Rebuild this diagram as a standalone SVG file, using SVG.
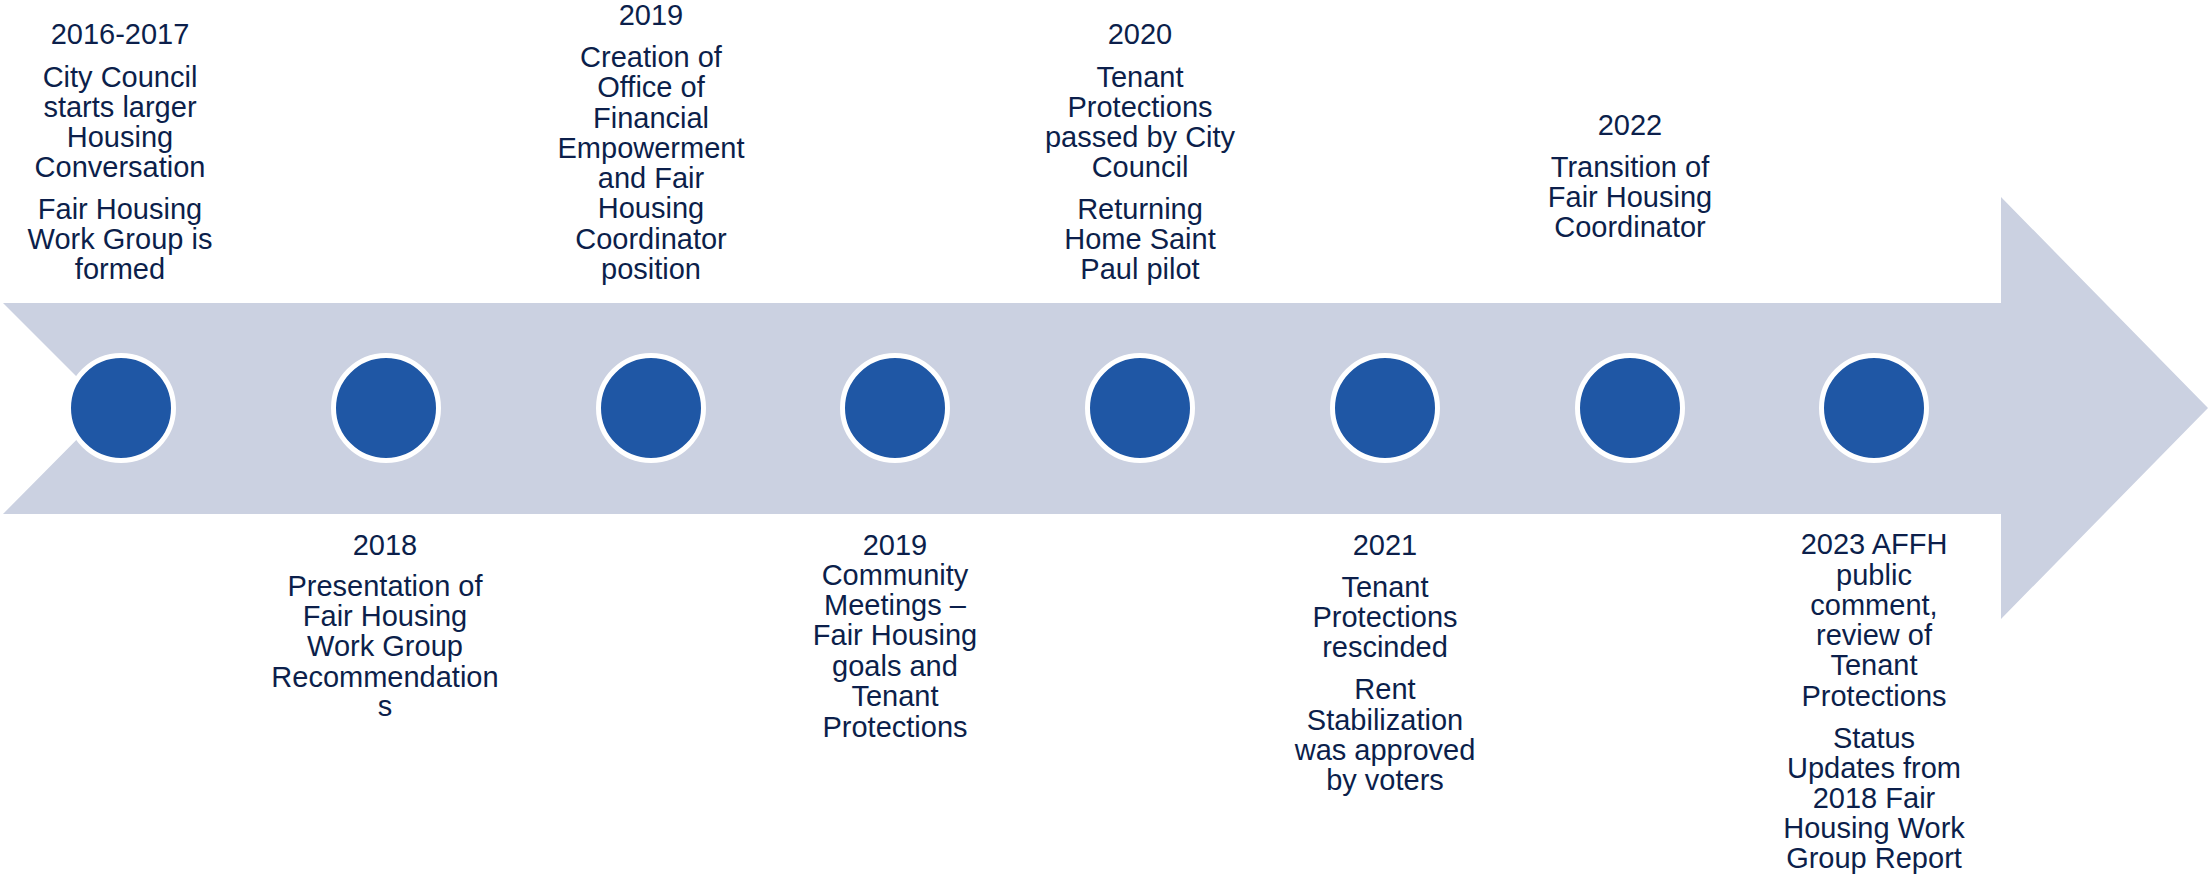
<svg xmlns="http://www.w3.org/2000/svg" width="2211" height="878" viewBox="0 0 2211 878">
<style>
.t{font-family:"Liberation Sans",Arial,sans-serif;font-size:29px;fill:#0C1F4B;text-anchor:middle}
.dot{fill:#1F57A5;stroke:#FFFFFF;stroke-width:5}
</style>
<rect x="0" y="0" width="2211" height="878" fill="#FFFFFF"/>
<g id="arrow">
<polygon points="3,303 2001,303 2001,197 2208,408 2001,619 2001,514 3,514 108,408" fill="#CBD1E1"/>
</g>
<g id="connectors"></g>
<g id="n1">
<circle class="dot" cx="121" cy="408" r="52.5"/>
<text class="t"><tspan x="120" y="44">2016-2017</tspan><tspan x="120" y="87">City Council</tspan><tspan x="120" y="117">starts larger</tspan><tspan x="120" y="147">Housing</tspan><tspan x="120" y="177">Conversation</tspan><tspan x="120" y="219">Fair Housing</tspan><tspan x="120" y="249">Work Group is</tspan><tspan x="120" y="279">formed</tspan></text>
</g>
<g id="n2">
<circle class="dot" cx="386" cy="408" r="52.5"/>
<text class="t"><tspan x="385" y="555">2018</tspan><tspan x="385" y="596">Presentation of</tspan><tspan x="385" y="626">Fair Housing</tspan><tspan x="385" y="656">Work Group</tspan><tspan x="385" y="687">Recommendation</tspan><tspan x="385" y="716">s</tspan></text>
</g>
<g id="n3">
<circle class="dot" cx="651" cy="408" r="52.5"/>
<text class="t"><tspan x="651" y="25">2019</tspan><tspan x="651" y="67">Creation of</tspan><tspan x="651" y="97">Office of</tspan><tspan x="651" y="128">Financial</tspan><tspan x="651" y="158">Empowerment</tspan><tspan x="651" y="188">and Fair</tspan><tspan x="651" y="218">Housing</tspan><tspan x="651" y="249">Coordinator</tspan><tspan x="651" y="279">position</tspan></text>
</g>
<g id="n4">
<circle class="dot" cx="895" cy="408" r="52.5"/>
<text class="t"><tspan x="895" y="555">2019</tspan><tspan x="895" y="585">Community</tspan><tspan x="895" y="615">Meetings –</tspan><tspan x="895" y="645">Fair Housing</tspan><tspan x="895" y="676">goals and</tspan><tspan x="895" y="706">Tenant</tspan><tspan x="895" y="737">Protections</tspan></text>
</g>
<g id="n5">
<circle class="dot" cx="1140" cy="408" r="52.5"/>
<text class="t"><tspan x="1140" y="44">2020</tspan><tspan x="1140" y="87">Tenant</tspan><tspan x="1140" y="117">Protections</tspan><tspan x="1140" y="147">passed by City</tspan><tspan x="1140" y="177">Council</tspan><tspan x="1140" y="219">Returning</tspan><tspan x="1140" y="249">Home Saint</tspan><tspan x="1140" y="279">Paul pilot</tspan></text>
</g>
<g id="n6">
<circle class="dot" cx="1385" cy="408" r="52.5"/>
<text class="t"><tspan x="1385" y="555">2021</tspan><tspan x="1385" y="597">Tenant</tspan><tspan x="1385" y="627">Protections</tspan><tspan x="1385" y="657">rescinded</tspan><tspan x="1385" y="699">Rent</tspan><tspan x="1385" y="730">Stabilization</tspan><tspan x="1385" y="760">was approved</tspan><tspan x="1385" y="790">by voters</tspan></text>
</g>
<g id="n7">
<circle class="dot" cx="1630" cy="408" r="52.5"/>
<text class="t"><tspan x="1630" y="135">2022</tspan><tspan x="1630" y="177">Transition of</tspan><tspan x="1630" y="207">Fair Housing</tspan><tspan x="1630" y="237">Coordinator</tspan></text>
</g>
<g id="n8">
<circle class="dot" cx="1874" cy="408" r="52.5"/>
<text class="t"><tspan x="1874" y="554">2023 AFFH</tspan><tspan x="1874" y="585">public</tspan><tspan x="1874" y="615">comment,</tspan><tspan x="1874" y="645">review of</tspan><tspan x="1874" y="675">Tenant</tspan><tspan x="1874" y="706">Protections</tspan><tspan x="1874" y="748">Status</tspan><tspan x="1874" y="778">Updates from</tspan><tspan x="1874" y="808">2018 Fair</tspan><tspan x="1874" y="838">Housing Work</tspan><tspan x="1874" y="868">Group Report</tspan></text>
</g>
</svg>
